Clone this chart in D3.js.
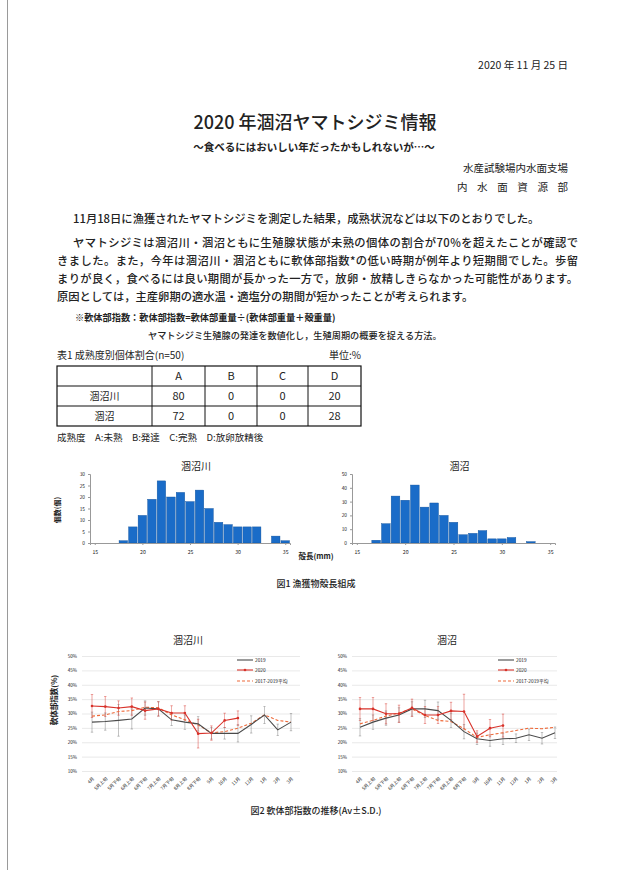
<!DOCTYPE html>
<html lang="ja">
<head>
<meta charset="utf-8">
<script src="https://cdn.jsdelivr.net/npm/d3@7"></script>
<style>
  html, body { margin: 0; padding: 0; background: #fff; }
  svg { display: block; }
  text { font-family: "Noto Sans CJK JP", "Noto Sans", sans-serif; fill: #222; }
</style>
</head>
<body>
<svg id="page" width="620" height="870"></svg>
<script>
// ---- text content ----
const dateText = "2020 年 11 月 25 日";
const titleText = "2020 年涸沼ヤマトシジミ情報";
const subtitleText = "～食べるにはおいしい年だったかもしれないが…～";
const orgLines = ["水産試験場内水面支場", "内 水 面 資 源 部"];
const bodyLines = [
  "11月18日に漁獲されたヤマトシジミを測定した結果，成熟状況などは以下のとおりでした。",
  "ヤマトシジミは涸沼川・涸沼ともに生殖腺状態が未熟の個体の割合が70%を超えたことが確認で",
  "きました。また，今年は涸沼川・涸沼ともに軟体部指数*の低い時期が例年より短期間でした。歩留",
  "まりが良く，食べるには良い期間が長かった一方で，放卵・放精しきらなかった可能性があります。",
  "原因としては，主産卵期の適水温・適塩分の期間が短かったことが考えられます。"
];
const noteLines = [
  "※軟体部指数：軟体部指数=軟体部重量÷(軟体部重量＋殻重量)",
  "ヤマトシジミ生殖腺の発達を数値化し，生殖周期の概要を捉える方法。"
];

// ---- table 1: maturity ratio (%) ----
const tableTitle = "表1 成熟度別個体割合(n=50)";
const tableUnit = "単位:%";
const maturityClasses = ["A", "B", "C", "D"];
const sites = ["涸沼川", "涸沼"];
const ratioHinumaRiver = [80, 0, 0, 20];
const ratioHinuma = [72, 0, 0, 28];
const tableNote = "成熟度　A:未熟　B:発達　C:完熟　D:放卵放精後";

// ---- figure 1: shell length histograms ----
const shellLengthMm = [18, 19, 20, 21, 22, 23, 24, 25, 26, 27, 28, 29, 30, 31, 32, 33, 34, 35];
const countRiver    = [ 1,  7, 12, 19, 27, 20, 22, 18, 23, 15,  9,  8,  7,  7,  7,  0,  3,  1];
const shellLengthLake = [17, 18, 19, 20, 21, 22, 23, 24, 25, 26, 27, 28, 29, 30, 31, 32, 33];
const countLake       = [ 2, 14, 34, 31, 42, 26, 29, 20, 15,  6,  7,  9,  3,  3,  4,  0,  1];
const histXTicks = [15, 20, 25, 30, 35];
const histYTicksRiver = [0, 5, 10, 15, 20, 25, 30];
const histYTicksLake = [0, 10, 20, 30, 40, 50];
const fig1Caption = "図1 漁獲物殻長組成";

// ---- figure 2: soft body index (%) ----
const periods = ["4月", "5月上旬", "5月下旬", "6月上旬", "6月下旬", "7月上旬", "7月下旬", "8月上旬",
                 "8月下旬", "9月", "10月", "11月", "12月", "1月", "2月", "3月"];
const seriesNames = ["2019", "2020", "2017-2019平均"];
const river2019   = [27.0, 27.2, 27.6, 28.1, 31.9, 31.6, 27.8, 27.0, 26.4, 23.1, 23.1, 23.1, 26.2, 29.5, 24.3, 27.0];
const river2019Sd = [3.5, 3.0, 5.5, 3.5, 2.5, 2.5, 2.0, 2.5, 2.5, 2.0, 2.0, 3.0, 3.0, 3.0, 2.0, 3.0];
const river2020   = [32.6, 32.4, 31.9, 32.4, 31.0, 31.6, 30.2, 30.2, 23.0, 23.2, 27.6, 28.4];
const river2020Sd = [4.0, 3.5, 2.5, 3.0, 3.0, 2.5, 2.5, 2.5, 5.0, 2.5, 2.5, 2.5];
const riverAvg    = [29.1, 29.5, 30.7, 31.0, 32.2, 32.0, 29.5, 27.8, 26.0, 23.3, 23.7, 24.9, 26.6, 29.5, 27.6, 27.0];
const lake2019    = [25.2, 27.0, 28.4, 29.5, 31.6, 31.6, 31.0, 27.6, 23.7, 21.2, 20.6, 21.2, 21.4, 22.6, 21.4, 23.3];
const lake2019Sd  = [3.0, 2.5, 2.5, 2.5, 2.5, 3.0, 3.0, 2.5, 2.5, 2.0, 2.0, 2.0, 1.5, 2.0, 2.0, 2.0];
const lake2020    = [31.6, 31.6, 29.9, 29.9, 32.0, 29.5, 29.5, 30.9, 30.7, 22.0, 24.9, 25.8];
const lake2020Sd  = [4.0, 4.0, 3.5, 3.0, 3.0, 3.0, 3.0, 3.0, 6.0, 2.0, 3.0, 4.0];
const lakeAvg     = [26.4, 27.6, 29.1, 30.2, 31.6, 29.3, 27.6, 27.2, 24.7, 21.7, 22.6, 23.3, 24.1, 24.9, 24.7, 25.2];
const indexTicks = [10, 15, 20, 25, 30, 35, 40, 45, 50];
const fig2Caption = "図2 軟体部指数の推移(Av±S.D.)";

// ---------------------------------------------------------------
const svg = d3.select("#page");
svg.append("rect").attr("width", 620).attr("height", 870).attr("fill", "#fff");
// page edge
svg.append("line").attr("x1", 7.5).attr("x2", 7.5).attr("y1", 0).attr("y2", 870)
  .attr("stroke", "#9a9a9a").attr("stroke-width", 1);

// header
svg.append("text").attr("x", 568).attr("y", 69).attr("text-anchor", "end")
  .attr("font-size", 10.5).text(dateText);
svg.append("text").attr("x", 315).attr("y", 129).attr("text-anchor", "middle")
  .attr("font-size", 18).attr("font-weight", 500).text(titleText);
svg.append("text").attr("x", 314).attr("y", 151).attr("text-anchor", "middle")
  .attr("font-size", 10.5).attr("font-weight", 700).text(subtitleText);
svg.append("text").attr("x", 568).attr("y", 172).attr("text-anchor", "end")
  .attr("font-size", 10.5).text(orgLines[0]);
svg.append("text").attr("x", 457).attr("y", 191)
  .attr("font-size", 10.5).attr("textLength", 111).attr("lengthAdjust", "spacing").text(orgLines[1].replace(/ /g, ""));

// body paragraph
const bodyLayout = [
  { x: 73, y: 223, w: null },
  { x: 73, y: 247, w: 505 },
  { x: 57, y: 265, w: 521 },
  { x: 57, y: 283, w: 521 },
  { x: 57, y: 301, w: null }
];
bodyLines.forEach((t, i) => {
  const L = bodyLayout[i];
  const tx = svg.append("text").attr("x", L.x).attr("y", L.y)
    .attr("font-size", 11.3).attr("font-weight", 500).text(t);
  if (L.w) tx.attr("textLength", L.w).attr("lengthAdjust", "spacing");
});
svg.append("text").attr("x", 75).attr("y", 321).attr("font-size", 9.2).attr("font-weight", 700).text(noteLines[0]);
svg.append("text").attr("x", 148).attr("y", 339).attr("font-size", 9.2).attr("font-weight", 500).text(noteLines[1]);

// table 1
svg.append("text").attr("x", 57).attr("y", 359).attr("font-size", 10).text(tableTitle);
svg.append("text").attr("x", 361).attr("y", 359).attr("text-anchor", "end").attr("font-size", 10).text(tableUnit);
const colEdges = [57, 152, 205, 257, 308, 361];
const rowEdges = [366, 386, 406, 426];
const tbl = svg.append("g");
tbl.append("rect").attr("x", colEdges[0]).attr("y", rowEdges[0])
  .attr("width", colEdges[5] - colEdges[0]).attr("height", rowEdges[3] - rowEdges[0])
  .attr("fill", "none").attr("stroke", "#111").attr("stroke-width", 1.2);
colEdges.slice(1, -1).forEach(x => tbl.append("line").attr("x1", x).attr("x2", x)
  .attr("y1", rowEdges[0]).attr("y2", rowEdges[3]).attr("stroke", "#111"));
rowEdges.slice(1, -1).forEach(y => tbl.append("line").attr("x1", colEdges[0]).attr("x2", colEdges[5])
  .attr("y1", y).attr("y2", y).attr("stroke", "#111").attr("stroke-width", 1.2));
const colMid = i => (colEdges[i] + colEdges[i + 1]) / 2;
const rowMid = i => (rowEdges[i] + rowEdges[i + 1]) / 2;
maturityClasses.forEach((c, i) => tbl.append("text").attr("x", colMid(i + 1)).attr("y", rowMid(0) + 4)
  .attr("text-anchor", "middle").attr("font-size", 11).attr("font-family", "Liberation Serif").text(c));
[ratioHinumaRiver, ratioHinuma].forEach((row, r) => {
  tbl.append("text").attr("x", colMid(0)).attr("y", rowMid(r + 1) + 4).attr("text-anchor", "middle")
    .attr("font-size", 10).text(sites[r]);
  row.forEach((v, i) => tbl.append("text").attr("x", colMid(i + 1)).attr("y", rowMid(r + 1) + 4)
    .attr("text-anchor", "middle").attr("font-size", 11).attr("fill", "#444").text(v));
});
svg.append("text").attr("x", 57).attr("y", 441).attr("font-size", 9.5).text(tableNote);

// ---- figure 1 ----
function histogram(opts) {
  const g = svg.append("g");
  const x = d3.scaleLinear().domain([14.5, 35.5]).range([opts.x0, opts.x1]);
  const y = d3.scaleLinear().domain([0, opts.yMax]).range([opts.base, opts.top]);
  g.append("text").attr("x", (opts.x0 + opts.x1) / 2 + 6).attr("y", opts.top - 4)
    .attr("text-anchor", "middle").attr("font-size", 10).attr("fill", "#333").text(opts.title);
  const bw = x(1) - x(0);
  g.selectAll("rect.bar").data(opts.lengths.map((l, i) => ({ l, n: opts.counts[i] })))
    .join("rect").attr("class", "bar")
    .attr("x", d => x(d.l - 0.5) + 0.5).attr("width", bw - 1)
    .attr("y", d => y(d.n)).attr("height", d => opts.base - y(d.n))
    .attr("fill", "#1a6cc8").attr("stroke", "#0d4f99").attr("stroke-width", 0.4);
  const yAxis = d3.axisLeft(y).tickValues(opts.yTicks).tickSize(2).tickPadding(3);
  g.append("g").attr("transform", `translate(${opts.x0},0)`).call(yAxis)
    .call(s => s.selectAll("text").attr("font-size", 4.8).attr("fill", "#666").attr("font-family", "Liberation Sans"))
    .call(s => s.selectAll("line,path").attr("stroke", "#999"));
  const xAxis = d3.axisBottom(x).tickValues(histXTicks).tickSize(2).tickPadding(5);
  g.append("g").attr("transform", `translate(0,${opts.base})`).call(xAxis)
    .call(s => s.selectAll("text").attr("font-size", 5.2).attr("fill", "#666").attr("font-family", "Liberation Sans"))
    .call(s => s.selectAll("line,path").attr("stroke", "#999"));
  return g;
}
histogram({ x0: 90, x1: 290, base: 543, top: 474, yMax: 30, yTicks: histYTicksRiver,
  lengths: shellLengthMm, counts: countRiver, title: sites[0] });
histogram({ x0: 352, x1: 555, base: 543, top: 474, yMax: 50, yTicks: histYTicksLake,
  lengths: shellLengthLake, counts: countLake, title: sites[1] });
svg.append("text").attr("transform", "translate(60,510) rotate(-90)").attr("text-anchor", "middle")
  .attr("font-size", 7).attr("font-weight", 700).text("個数(個)");
svg.append("text").attr("x", 316).attr("y", 559).attr("text-anchor", "middle")
  .attr("font-size", 7.5).attr("font-weight", 700).text("殻長(mm)");
svg.append("text").attr("x", 316).attr("y", 587).attr("text-anchor", "middle")
  .attr("font-size", 9).attr("font-weight", 500).attr("fill", "#333").text(fig1Caption);

// ---- figure 2 ----
const colors = { y2019: "#4a4a4a", y2020: "#d8322a", avg: "#ee6a3a" };
function indexChart(opts) {
  const g = svg.append("g");
  const x = d3.scalePoint().domain(periods).range([opts.p0, opts.p1]);
  const y = d3.scaleLinear().domain([10, 50]).range([771, 656]);
  g.append("text").attr("x", opts.titleX).attr("y", 644).attr("text-anchor", "middle")
    .attr("font-size", 10).attr("fill", "#333").text(opts.title);
  // gridlines and tick labels
  const yAxis = d3.axisLeft(y).tickValues(indexTicks).tickSize(-(opts.g1 - opts.g0))
    .tickFormat(d => d + "%").tickPadding(5);
  g.append("g").attr("transform", `translate(${opts.g0},0)`).call(yAxis)
    .call(s => s.select(".domain").remove())
    .call(s => s.selectAll("line").attr("stroke", "#e3e3e3").attr("stroke-width", 0.8))
    .call(s => s.selectAll("text").attr("font-size", 4.6).attr("fill", "#777").attr("font-family", "Liberation Serif"));
  // category labels
  const xAxis = d3.axisBottom(x).tickSize(0).tickPadding(0);
  g.append("g").attr("transform", "translate(0,775)").call(xAxis)
    .call(s => s.select(".domain").remove())
    .call(s => s.selectAll("text").attr("font-size", 4.6).attr("fill", "#777")
      .attr("text-anchor", "end").attr("dy", 0)
      .attr("transform", "translate(2,4) rotate(-45)"));
  const line = d3.line().x((d, i) => x(periods[i])).y(d => y(d));
  const errbars = (vals, sds, color) => {
    vals.forEach((v, i) => {
      const cx = x(periods[i]);
      g.append("line").attr("x1", cx).attr("x2", cx).attr("y1", y(v - sds[i])).attr("y2", y(v + sds[i]))
        .attr("stroke", color).attr("stroke-width", 0.6).attr("opacity", 0.75);
      [v - sds[i], v + sds[i]].forEach(e => g.append("line").attr("x1", cx - 1.2).attr("x2", cx + 1.2)
        .attr("y1", y(e)).attr("y2", y(e)).attr("stroke", color).attr("stroke-width", 0.6).attr("opacity", 0.75));
    });
  };
  errbars(opts.s2019, opts.sd2019, "#777");
  errbars(opts.s2020, opts.sd2020, colors.y2020);
  g.append("path").datum(opts.sAvg).attr("d", line).attr("fill", "none")
    .attr("stroke", colors.avg).attr("stroke-width", 1.1).attr("stroke-dasharray", "3,2");
  g.append("path").datum(opts.s2019).attr("d", line).attr("fill", "none")
    .attr("stroke", colors.y2019).attr("stroke-width", 1.1);
  g.append("path").datum(opts.s2020).attr("d", line).attr("fill", "none")
    .attr("stroke", colors.y2020).attr("stroke-width", 1.1);
  g.selectAll("circle.m").data(opts.s2020).join("circle").attr("class", "m")
    .attr("cx", (d, i) => x(periods[i])).attr("cy", d => y(d)).attr("r", 1.3).attr("fill", colors.y2020);
  // legend
  const lg = g.append("g").attr("transform", `translate(${opts.legX},0)`);
  const rows = [660, 670, 681];
  lg.append("line").attr("x1", 0).attr("x2", 16).attr("y1", rows[0]).attr("y2", rows[0])
    .attr("stroke", colors.y2019).attr("stroke-width", 1.1);
  lg.append("line").attr("x1", 0).attr("x2", 16).attr("y1", rows[1]).attr("y2", rows[1])
    .attr("stroke", colors.y2020).attr("stroke-width", 1.1);
  lg.append("circle").attr("cx", 8).attr("cy", rows[1]).attr("r", 1.3).attr("fill", colors.y2020);
  lg.append("line").attr("x1", 0).attr("x2", 16).attr("y1", rows[2]).attr("y2", rows[2])
    .attr("stroke", colors.avg).attr("stroke-width", 1.1).attr("stroke-dasharray", "3,2");
  seriesNames.forEach((n, i) => lg.append("text").attr("x", 18).attr("y", rows[i] + 1.7)
    .attr("font-size", 4.8).attr("fill", "#666").text(n));
}
indexChart({ title: sites[0], titleX: 188, g0: 82, g1: 300, p0: 92, p1: 291, legX: 237,
  s2019: river2019, sd2019: river2019Sd, s2020: river2020, sd2020: river2020Sd, sAvg: riverAvg });
indexChart({ title: sites[1], titleX: 447, g0: 352, g1: 557, p0: 360, p1: 555, legX: 498,
  s2019: lake2019, sd2019: lake2019Sd, s2020: lake2020, sd2020: lake2020Sd, sAvg: lakeAvg });
svg.append("text").attr("transform", "translate(57,700) rotate(-90)").attr("text-anchor", "middle")
  .attr("font-size", 7.5).attr("font-weight", 700).text("軟体部指数(%)");
svg.append("text").attr("x", 316).attr("y", 814).attr("text-anchor", "middle")
  .attr("font-size", 9).attr("font-weight", 500).attr("fill", "#333").text(fig2Caption);
</script>
</body>
</html>
